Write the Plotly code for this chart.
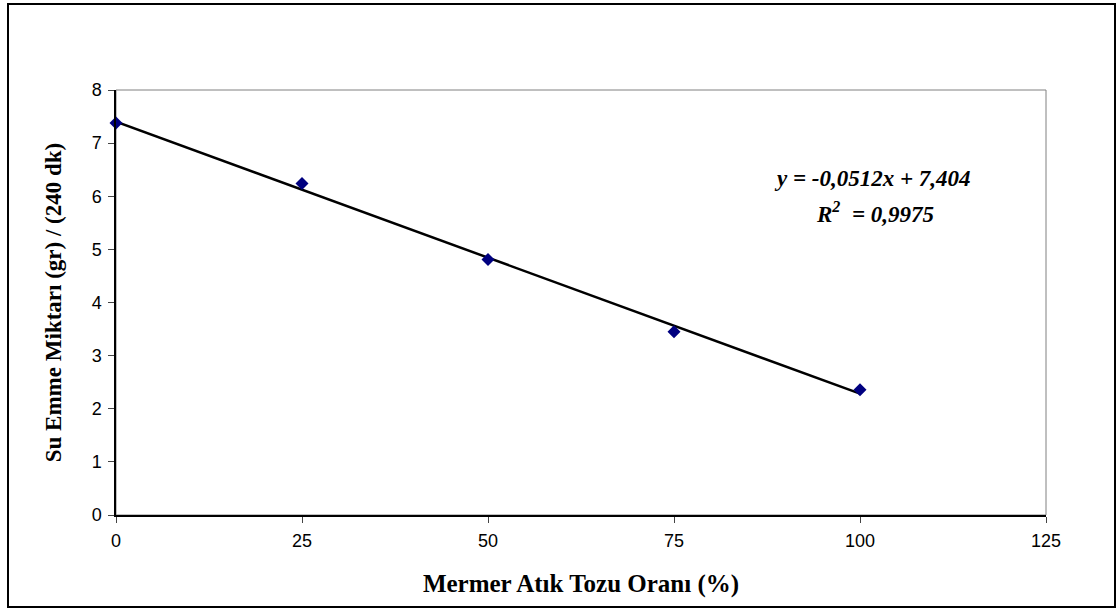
import plotly.graph_objects as go

oran = [0, 25, 50, 75, 100]
su_emme = [7.38, 6.24, 4.81, 3.45, 2.36]
egim = -0.0512
kesisim = 7.404
x_ticks = [0, 25, 50, 75, 100, 125]
y_ticks = [0, 1, 2, 3, 4, 5, 6, 7, 8]

W, H = 1117, 611
L, R, T, B = 116, 71, 90, 96
pw, ph = W - L - R, H - T - B

trend_x = [oran[0], oran[-1]]
trend_y = [kesisim + egim * v for v in trend_x]

fig = go.Figure()
fig.add_trace(go.Scatter(x=trend_x, y=trend_y, mode="lines",
                         line=dict(color="black", width=2.5), showlegend=False, hoverinfo="skip"))
fig.add_trace(go.Scatter(x=oran, y=su_emme, mode="markers", cliponaxis=False,
                         marker=dict(symbol="diamond", color="#000080", size=10,
                                     line=dict(width=0)), showlegend=False))

def px(xp):
    return (xp - L) / pw

def py(yp):
    return (H - B - yp) / ph

shapes = [
    dict(type="rect", xref="paper", yref="paper", x0=0, x1=1, y0=0, y1=1,
         line=dict(color="#808080", width=1), layer="below"),
    dict(type="rect", xref="paper", yref="paper", x0=px(8), x1=px(1115), y0=py(607), y1=py(4),
         line=dict(color="black", width=2)),
]

serif = "Liberation Serif, Times New Roman, serif"

fig.update_layout(
    width=W, height=H,
    margin=dict(l=L, r=R, t=T, b=B),
    paper_bgcolor="white", plot_bgcolor="white",
    font=dict(family="Liberation Sans, Arial, sans-serif", size=18, color="black"),
    shapes=shapes,
    xaxis=dict(range=[0, 125], tickvals=x_ticks, ticks="outside", ticklen=6, tickwidth=1,
               showline=True, linecolor="black", linewidth=1.5, showgrid=False, zeroline=False,
               tickfont=dict(size=18), ticklabelstandoff=3,
               title=dict(text="<b>Mermer Atık Tozu Oranı (%)</b>",
                          font=dict(family=serif, size=25), standoff=24)),
    yaxis=dict(range=[0, 8], tickvals=y_ticks, ticks="outside", ticklen=6, tickwidth=1,
               showline=True, linecolor="black", linewidth=1.5, showgrid=False, zeroline=False,
               tickfont=dict(size=18), ticklabelstandoff=3,
               title=dict(text="<b>Su Emme Miktarı (gr) / (240 dk)</b>",
                          font=dict(family=serif, size=23), standoff=24)),
    annotations=[
        dict(xref="paper", yref="paper", x=px(872), y=py(178), showarrow=False,
             xanchor="center", yanchor="middle",
             text="<b><i>y = -0,0512x + 7,404</i></b>",
             font=dict(family=serif, size=23)),
        dict(xref="paper", yref="paper", x=px(875), y=py(212), showarrow=False,
             xanchor="center", yanchor="middle",
             text="<b><i>R<sup>2</sup>  = 0,9975</i></b>",
             font=dict(family=serif, size=23)),
    ],
)

fig.write_html("out.html", config={"displayModeBar": False},
               post_script="document.body.style.margin='0';")
